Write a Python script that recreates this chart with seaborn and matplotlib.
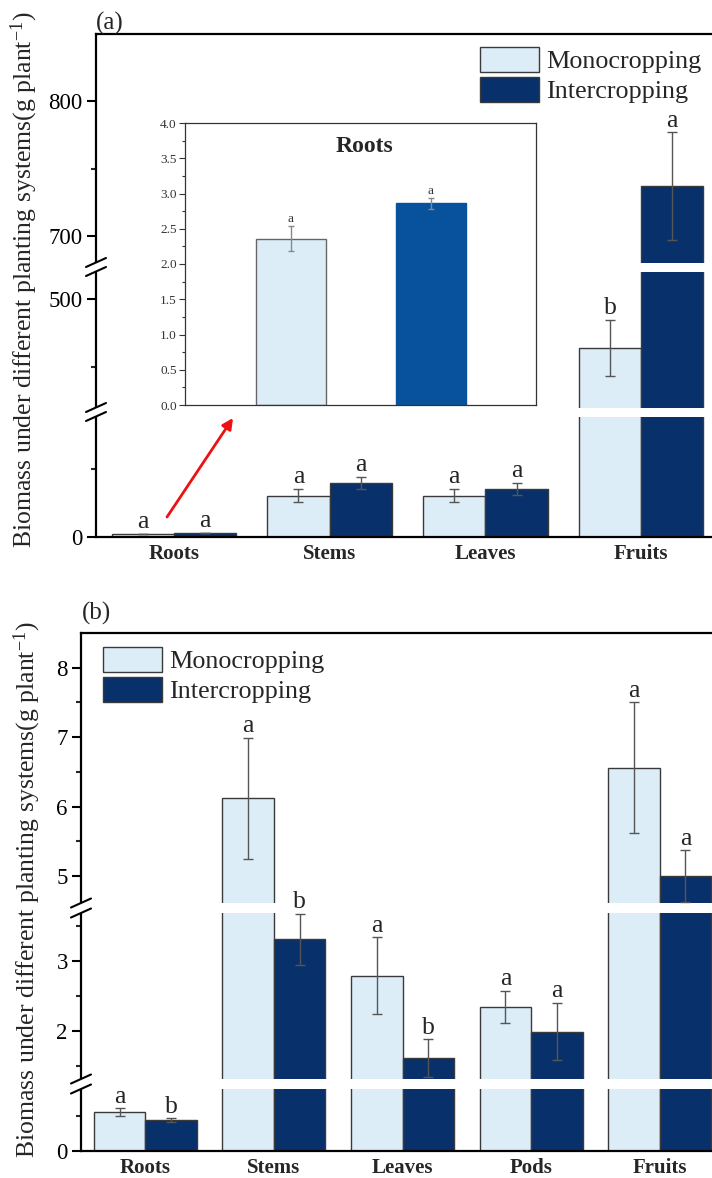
import numpy as np
import pandas as pd
import matplotlib
matplotlib.use("Agg")
import matplotlib.pyplot as plt
import seaborn as sns
from matplotlib.patches import Patch, Rectangle
from matplotlib.lines import Line2D

# ---------------- data ----------------
systems = ["Monocropping", "Intercropping"]

a_organs = ["Roots", "Stems", "Leaves", "Fruits"]
a_mono = [2.36, 30.5, 30.4, 464]
a_mono_err = [0.18, 4.8, 4.8, 20.5]
a_inter = [2.86, 40.0, 35.3, 737]
a_inter_err = [0.08, 4.5, 4.4, 40]
a_mono_sig = ["a", "a", "a", "b"]
a_inter_sig = ["a", "a", "a", "a"]
a_yticks = [0, 500, 700, 800]
a_yminor = [50, 450, 750]
a_seg_vals = [0, 92, 417, 523.5, 677, 850]

inset_vals = [2.36, 2.86]
inset_errs = [0.18, 0.08]
inset_sig = ["a", "a"]
inset_yticks = [0.0, 0.5, 1.0, 1.5, 2.0, 2.5, 3.0, 3.5, 4.0]
inset_yminor = [0.25, 0.75, 1.25, 1.75, 2.25, 2.75, 3.25, 3.75]

b_organs = ["Roots", "Stems", "Leaves", "Pods", "Fruits"]
b_mono = [0.555, 6.12, 2.79, 2.34, 6.56]
b_mono_err = [0.055, 0.87, 0.55, 0.23, 0.94]
b_inter = [0.44, 3.31, 1.61, 1.99, 5.0]
b_inter_err = [0.03, 0.37, 0.27, 0.41, 0.37]
b_mono_sig = ["a", "a", "a", "a", "a"]
b_inter_sig = ["b", "b", "b", "a", "a"]
b_yticks = [0, 2, 3, 5, 6, 7, 8]
b_yminor = [0.5, 1.5, 2.5, 3.5, 5.5, 6.5, 7.5]
b_seg_vals = [0, 0.96, 1.24, 3.76, 4.54, 8.5]

ylabel = "Biomass under different planting systems(g plant$^{-1}$)"

C_MONO = "#dcedf8"
C_INTER = "#08306b"
C_INSET_INTER = "#08519c"
EDGE = "#3a3a3a"
ERR = "#555555"

# ---------------- style ----------------
sns.set_style("ticks")
plt.rcParams["font.family"] = ["Liberation Serif", "DejaVu Serif"]
plt.rcParams["mathtext.fontset"] = "custom"
plt.rcParams["mathtext.rm"] = "Liberation Serif"
plt.rcParams["mathtext.it"] = "Liberation Serif:italic"
plt.rcParams["mathtext.default"] = "regular"

W, H = 712, 1178
fig = plt.figure(figsize=(W / 100, H / 100), dpi=100)


def px_axes(left, top, right, bottom):
    return fig.add_axes([left / W, 1 - bottom / H, (right - left) / W, (bottom - top) / H])


def piecewise(vals, ts):
    vals = np.asarray(vals, float)
    ts = np.asarray(ts, float)
    return (lambda v: np.interp(v, vals, ts)), (lambda t: np.interp(t, ts, vals))


def draw_panel(ax, organs, mono, mono_err, inter, inter_err, msig, isig):
    n = len(organs)
    df = pd.DataFrame({
        "organ": list(organs) * 2,
        "system": [systems[0]] * n + [systems[1]] * n,
        "value": list(mono) + list(inter),
    })
    sns.barplot(data=df, x="organ", y="value", hue="system", order=organs,
                hue_order=systems, palette=[C_MONO, C_INTER], errorbar=None,
                width=0.8, edgecolor=EDGE, linewidth=1.0, saturation=1,
                legend=False, ax=ax)
    for cont, vals, errs, sigs in zip(ax.containers, [mono, inter],
                                      [mono_err, inter_err], [msig, isig]):
        xs = [b.get_x() + b.get_width() / 2 for b in cont]
        ax.errorbar(xs, vals, yerr=errs, fmt="none", ecolor=ERR, elinewidth=1,
                    capsize=3.6, capthick=1, zorder=4)
        for x, v, e, s in zip(xs, vals, errs, sigs):
            ax.annotate(s, (x, v + e), xytext=(0, 0.5), textcoords="offset points",
                        ha="center", va="bottom", fontsize=18.5, zorder=7)
    ax.set_xlim(-0.5, n - 0.5)
    ax.set_xlabel("")


def style_axis(ax, seg_vals, ts, yticks, yminor, wpx, hpx, hh_px):
    ax.set_yscale("function", functions=piecewise(seg_vals, ts))
    ax.set_ylim(seg_vals[0], seg_vals[-1])
    ax.set_yticks(yticks)
    ax.set_yticklabels([str(t) for t in yticks])
    ax.set_yticks(yminor, minor=True)
    ax.tick_params(axis="y", which="major", direction="out", length=6.5, width=1.5,
                   labelsize=16.5, pad=3, colors="black")
    ax.tick_params(axis="y", which="minor", direction="out", length=3.5, width=1.5)
    ax.tick_params(axis="x", which="both", length=0, pad=5, labelsize=15)
    for lbl in ax.get_xticklabels():
        lbl.set_fontweight("bold")
    for side in ["left", "top", "bottom"]:
        ax.spines[side].set_linewidth(1.6)
        ax.spines[side].set_color("black")
    ax.spines["right"].set_visible(False)
    # breaks
    t_top = ts[-1]
    for t in (ts[1], ts[3]):
        ya = t / t_top
        hh = hh_px / hpx
        ax.add_patch(Rectangle((-4 / wpx, ya - hh), 1 + 8 / wpx, 2 * hh,
                               transform=ax.transAxes, facecolor="white",
                               edgecolor="none", zorder=3, clip_on=False))
        for s in (-1, 1):
            yc = ya + s * hh
            ax.add_line(Line2D([-10 / wpx, 10 / wpx], [yc - 4.5 / hpx, yc + 4.5 / hpx],
                               transform=ax.transAxes, color="black", lw=1.5,
                               clip_on=False, zorder=6))


def add_legend(ax, x_px, y_px):
    handles = [Patch(facecolor=C_MONO, edgecolor=EDGE, linewidth=1),
               Patch(facecolor=C_INTER, edgecolor=EDGE, linewidth=1)]
    ax.legend(handles, systems, loc="upper left",
              bbox_to_anchor=(x_px / W, 1 - y_px / H), bbox_transform=fig.transFigure,
              frameon=False, fontsize=18.8, handlelength=2.25, handleheight=1.08,
              handletextpad=0.28, labelspacing=0.14, borderpad=0, borderaxespad=0)


# ---------------- panel (a) ----------------
a_l, a_t, a_r, a_b = 96, 34, 719, 537
axa = px_axes(a_l, a_t, a_r, a_b)
draw_panel(axa, a_organs, a_mono, a_mono_err, a_inter, a_inter_err, a_mono_sig, a_inter_sig)
a_ts = [0, 125, 125.01, 270, 270.01, a_b - a_t]
style_axis(axa, a_seg_vals, a_ts, a_yticks, a_yminor, a_r - a_l, a_b - a_t, 4.5)
axa.set_ylabel(ylabel, fontsize=18.5)
axa.yaxis.set_label_coords(-0.090, 0.511)
add_legend(axa, 480, 47)
fig.text(96 / W, 1 - 30 / H, "(a)", fontsize=18, ha="left", va="baseline")

# red arrow
axa.annotate("", xy=(233, H - 418), xycoords="figure pixels",
             xytext=(167, H - 517), textcoords="figure pixels",
             arrowprops=dict(arrowstyle="-|>", color="#ee1111", lw=2, mutation_scale=16,
                             shrinkA=0, shrinkB=0), zorder=8)

# ---------------- inset ----------------
ins = px_axes(185, 123, 536, 405)
df_in = pd.DataFrame({"system": systems, "value": inset_vals})
sns.barplot(data=df_in, x="system", y="value", hue="system", hue_order=systems,
            palette=[C_MONO, C_INSET_INTER], width=0.5, errorbar=None, saturation=1,
            edgecolor="#666666", linewidth=1, legend=False, ax=ins)
for p in ins.patches:
    if abs(p.get_x() + p.get_width() / 2 - 1) < 0.01:
        p.set_edgecolor(C_INSET_INTER)
in_x = []
for cont in ins.containers:
    for b in cont:
        if b.get_height() > 0:
            in_x.append(b.get_x() + b.get_width() / 2)
in_x = sorted(in_x)
ins.errorbar(in_x, inset_vals, yerr=inset_errs, fmt="none", ecolor="#888888",
             elinewidth=1, capsize=2.2, capthick=1, zorder=4)
for x, v, e, s in zip(in_x, inset_vals, inset_errs, inset_sig):
    ins.annotate(s, (x, v + e), xytext=(0, 0.5), textcoords="offset points",
                 ha="center", va="bottom", fontsize=9.5, color="#333333")
ins.set_xlim(-0.757, 1.75)
ins.set_ylim(0, 4)
ins.set_yticks(inset_yticks)
ins.set_yticklabels([f"{t:.1f}" for t in inset_yticks])
ins.set_yticks(inset_yminor, minor=True)
ins.set_xticks([])
ins.set_xlabel("")
ins.set_ylabel("")
ins.tick_params(axis="y", which="major", direction="out", length=4, width=0.8,
                labelsize=9.5, labelcolor="#333333", color="#333333", pad=2)
ins.tick_params(axis="y", which="minor", direction="out", length=2, width=0.8,
                color="#333333")
for sp in ins.spines.values():
    sp.set_visible(True)
    sp.set_linewidth(0.9)
    sp.set_color("#333333")
ins.text(0.51, 0.915, "Roots", transform=ins.transAxes, fontsize=17,
         fontweight="bold", ha="center", va="center")

# ---------------- panel (b) ----------------
b_l, b_t, b_r, b_b = 81, 633, 724, 1151
axb = px_axes(b_l, b_t, b_r, b_b)
draw_panel(axb, b_organs, b_mono, b_mono_err, b_inter, b_inter_err, b_mono_sig, b_inter_sig)
b_ts = [0, 67, 67.01, 243, 243.01, b_b - b_t]
style_axis(axb, b_seg_vals, b_ts, b_yticks, b_yminor, b_r - b_l, b_b - b_t, 5)
axb.set_ylabel(ylabel, fontsize=18.5)
axb.yaxis.set_label_coords(-0.059, 0.504)
add_legend(axb, 103, 647)
fig.text(82 / W, 1 - 620 / H, "(b)", fontsize=18, ha="left", va="baseline")

fig.savefig("out.png", dpi=100)
